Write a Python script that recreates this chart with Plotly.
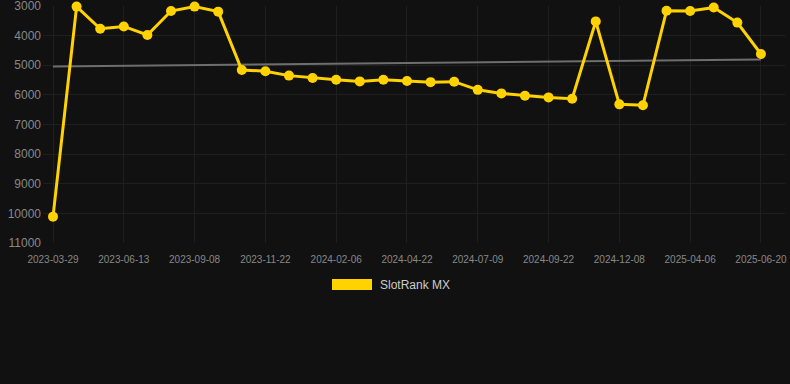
import plotly.graph_objects as go

dates = [
    "2023-03-29", "2023-04-23", "2023-05-19",
    "2023-06-13", "2023-07-12", "2023-08-10",
    "2023-09-08", "2023-10-03", "2023-10-28",
    "2023-11-22", "2023-12-17", "2024-01-12",
    "2024-02-06", "2024-03-02", "2024-03-27",
    "2024-04-22", "2024-05-18", "2024-06-13",
    "2024-07-09", "2024-08-03", "2024-08-28",
    "2024-09-22", "2024-10-17", "2024-11-12",
    "2024-12-08", "2025-01-25", "2025-03-01",
    "2025-04-06", "2025-05-01", "2025-05-26",
    "2025-06-20",
]
ranks = [
    10110, 3020, 3770, 3690, 3980, 3170, 3020, 3190,
    5160, 5200, 5350, 5430, 5490, 5545, 5490, 5530,
    5570, 5555, 5830, 5950, 6030, 6085, 6130, 3520,
    6320, 6350, 3160, 3170, 3050, 3560, 4620,
]
trend_values = [5040, 4810]
series_name = "SlotRank MX"
y_ticks = [3000, 4000, 5000, 6000, 7000, 8000, 9000, 10000, 11000]
y_tick_text = [str(v) for v in y_ticks]

idx = list(range(len(dates)))
label_idx = idx[::3]
label_text = [dates[i] for i in label_idx]

gold = "#FFD200"
bg = "#111111"
grid = "#1f1f1f"

PL, PR, PT, PB = 43, 5, 6, 141
PW, PH = 790 - PL - PR, 384 - PT - PB


def px_x(p):
    return (p - PL) / PW


def px_y(p):
    return (384 - PB - p) / PH


fig = go.Figure()
fig.add_trace(go.Scatter(
    x=[idx[0], idx[-1]], y=trend_values, mode="lines",
    line=dict(color="#6e6e6e", width=2), showlegend=False, hoverinfo="skip",
))
fig.add_trace(go.Scatter(
    x=idx, y=ranks, mode="lines+markers", name=series_name,
    line=dict(color=gold, width=3),
    marker=dict(color=gold, size=10),
    showlegend=False, cliponaxis=False,
))

fig.update_layout(
    width=790, height=384,
    margin=dict(l=PL, r=PR, t=PT, b=PB),
    paper_bgcolor=bg, plot_bgcolor=bg,
    font=dict(family="Liberation Sans, Arial, sans-serif", color="#888888"),
    xaxis=dict(
        range=[-0.424, 31.02],
        tickmode="array", tickvals=label_idx, ticktext=label_text,
        tickfont=dict(size=10, color="#888888"),
        showgrid=True, gridcolor=grid, gridwidth=1,
        zeroline=False, showline=False, ticks="",
        ticklabelstandoff=9, automargin=False,
    ),
    yaxis=dict(
        range=[11000, 3000],
        tickmode="array", tickvals=y_ticks, ticktext=y_tick_text,
        tickfont=dict(size=12, color="#888888"),
        showgrid=True, gridcolor=grid, gridwidth=1,
        zeroline=False, showline=False, ticks="",
        ticklabelstandoff=1, ticklabeloverflow="allow", automargin=False,
    ),
    shapes=[dict(
        type="rect", xref="paper", yref="paper",
        x0=px_x(332), x1=px_x(372),
        y0=px_y(290), y1=px_y(279),
        fillcolor=gold, line=dict(width=0),
    )],
    annotations=[dict(
        text=series_name, xref="paper", yref="paper",
        x=px_x(378), y=px_y(284.5),
        xanchor="left", yanchor="middle", showarrow=False,
        font=dict(size=12, color="#cccccc"),
    )],
)

fig.write_html("out.html")
